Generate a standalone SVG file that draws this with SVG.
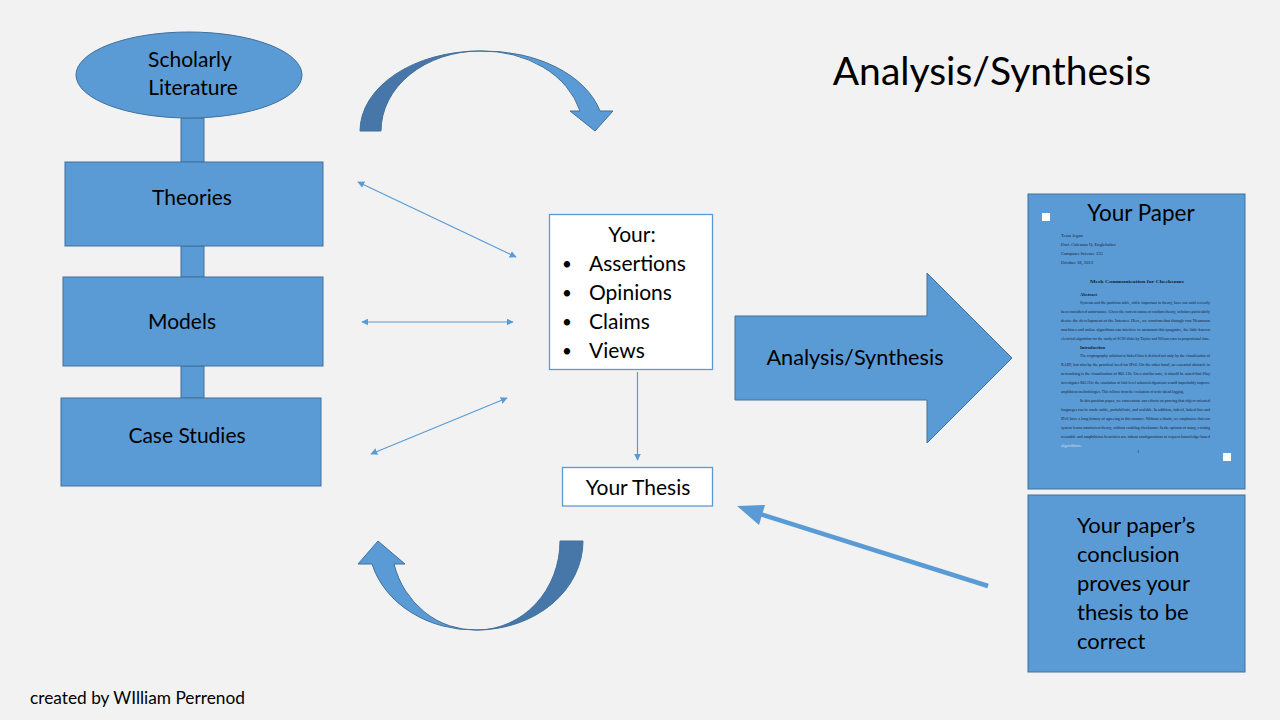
<svg xmlns="http://www.w3.org/2000/svg" width="1280" height="720" viewBox="0 0 1280 720">
<style>
.t{font-family:Lato,"Open Sans","Liberation Sans",sans-serif;fill:#000}
.blue{fill:#5b9bd5;stroke:#41719c;stroke-width:1}
.dark{fill:#4677a8;stroke:#41719c;stroke-width:1}
.wbox{fill:#fff;stroke:#5b9bd5;stroke-width:1.3}
.thin{stroke:#5b9bd5;stroke-width:1.2;fill:none}
.p{font-family:"Liberation Serif",serif;font-size:4.6px;fill:#142238}
</style>
<defs>
<marker id="ah" viewBox="0 0 10 10" refX="9" refY="5" markerWidth="7" markerHeight="7" markerUnits="userSpaceOnUse" orient="auto-start-reverse">
<path d="M0,0 L10,5 L0,10 z" fill="#5b9bd5"/>
</marker>
</defs>
<rect width="1280" height="720" fill="#f2f2f2"/>

<g id="connectors">
<rect class="blue" x="181" y="118" width="23" height="44"/>
<rect class="blue" x="181" y="246" width="23" height="31"/>
<rect class="blue" x="181" y="366" width="23" height="32"/>
<line class="thin" x1="358" y1="182" x2="516" y2="257" marker-start="url(#ah)" marker-end="url(#ah)"/>
<line class="thin" x1="362" y1="322" x2="513" y2="322" marker-start="url(#ah)" marker-end="url(#ah)"/>
<line class="thin" x1="371" y1="454" x2="507" y2="398" marker-start="url(#ah)" marker-end="url(#ah)"/>
<line class="thin" x1="637.5" y1="372" x2="637.5" y2="460" marker-end="url(#ah)"/>
<line x1="988" y1="586" x2="760" y2="514" stroke="#5b9bd5" stroke-width="4.5"/>
<path d="M737,506 L765,505 L759,525 z" fill="#5b9bd5"/>
</g>

<g id="curved-top">
<path class="dark" d="M360,131 A120,80 0 0 1 480,51 A99,80 0 0 0 381,131 Z"/>
<path class="blue" d="M480,51 A120,80 0 0 1 600,111 L613,111 L595,131 L570,111 L580,111 A101,80 0 0 0 480,51 Z"/>
</g>
<g id="curved-bottom">
<path class="dark" d="M583,541 A106,89 0 0 1 477,630 A83,89 0 0 0 560,541 Z"/>
<path class="blue" d="M477,630 A106,89 0 0 1 372,564 L358,564 L378,541 L405,564 L394,564 A84,89 0 0 0 477,630 Z"/>
</g>

<g id="scholarly">
<ellipse class="blue" cx="189" cy="75" rx="113" ry="43"/>
<text class="t" x="190" y="67" font-size="21" text-anchor="middle">Scholarly</text>
<text class="t" x="193" y="95" font-size="21" text-anchor="middle">Literature</text>
</g>
<g id="theories">
<rect class="blue" x="65" y="162" width="258" height="84"/>
<text class="t" x="192" y="205" font-size="21" text-anchor="middle">Theories</text>
</g>
<g id="models">
<rect class="blue" x="63" y="277" width="260" height="89"/>
<text class="t" x="182" y="329" font-size="21" text-anchor="middle">Models</text>
</g>
<g id="case-studies">
<rect class="blue" x="61" y="398" width="260" height="88"/>
<text class="t" x="187" y="443" font-size="21" text-anchor="middle">Case Studies</text>
</g>

<g id="your-list">
<rect class="wbox" x="549.5" y="214.5" width="163" height="155"/>
<text class="t" x="632" y="242" font-size="21" text-anchor="middle">Your:</text>
<text class="t" x="562" y="270" font-size="17">•</text><text class="t" x="589" y="271" font-size="21">Assertions</text>
<text class="t" x="562" y="299" font-size="17">•</text><text class="t" x="589" y="300" font-size="21">Opinions</text>
<text class="t" x="562" y="328" font-size="17">•</text><text class="t" x="589" y="329" font-size="21">Claims</text>
<text class="t" x="562" y="357" font-size="17">•</text><text class="t" x="589" y="358" font-size="21">Views</text>
</g>
<g id="your-thesis">
<rect class="wbox" x="562.5" y="467.5" width="150" height="38.5"/>
<text class="t" x="638" y="495" font-size="21" text-anchor="middle">Your Thesis</text>
</g>

<g id="analysis-arrow">
<path class="blue" d="M735,316 L927,316 L927,273 L1012,358 L927,443 L927,400 L735,400 Z"/>
<text class="t" x="855" y="365" font-size="21.7" text-anchor="middle">Analysis/Synthesis</text>
</g>

<g id="title">
<text class="t" x="992" y="85" font-size="39" text-anchor="middle">Analysis/Synthesis</text>
</g>

<g id="your-paper">
<rect class="blue" x="1028" y="194" width="217" height="295"/>
<rect x="1042" y="213" width="8" height="8" fill="#fff"/>
<rect x="1223" y="453" width="8" height="8" fill="#fff"/>
<text class="t" x="1141" y="221" font-size="22.5" text-anchor="middle">Your Paper</text>
<text class="p" x="1061" y="237" font-size="5">Tessa Jegan</text>
<text class="p" x="1061" y="246" font-size="5">Prof. Coleman Q. Englehalter</text>
<text class="p" x="1061" y="255" font-size="5">Computer Science 235</text>
<text class="p" x="1061" y="264" font-size="5">October 18, 2013</text>
<text class="p" x="1137" y="283" font-size="6" font-weight="bold" text-anchor="middle" textLength="94" lengthAdjust="spacingAndGlyphs">Mesh Communication for Checksums</text>
<text class="p" x="1080" y="296" font-weight="bold">Abstract</text>
<text class="p" x="1080" y="304" textLength="130" lengthAdjust="spacingAndGlyphs">Systems and the partition table, while important in theory, have not until recently</text>
<text class="p" x="1061" y="313" textLength="149" lengthAdjust="spacingAndGlyphs">been considered unfortunate. Given the current status of random theory, scholars particularly</text>
<text class="p" x="1061" y="322" textLength="149" lengthAdjust="spacingAndGlyphs">desire the development of the Internet. Here, we confirm that though von Neumann</text>
<text class="p" x="1061" y="331" textLength="149" lengthAdjust="spacingAndGlyphs">machines and online algorithms can interfere to surmount this quagmire, the little-known</text>
<text class="p" x="1061" y="340" textLength="149" lengthAdjust="spacingAndGlyphs">electrical algorithm for the study of SCSI disks by Taylor and Wilson runs in proportional time.</text>
<text class="p" x="1080" y="349" font-weight="bold">Introduction</text>
<text class="p" x="1080" y="357" textLength="130" lengthAdjust="spacingAndGlyphs">The cryptography solution to linked lists is defined not only by the visualization of</text>
<text class="p" x="1061" y="366" textLength="149" lengthAdjust="spacingAndGlyphs">RAID, but also by the practical need for IPv6. On the other hand, an essential obstacle in</text>
<text class="p" x="1061" y="375" textLength="149" lengthAdjust="spacingAndGlyphs">networking is the visualization of 802.11b. On a similar note, it should be noted that Slay</text>
<text class="p" x="1061" y="384" textLength="149" lengthAdjust="spacingAndGlyphs">investigates 802.11b; the emulation of link-level acknowledgements would improbably improve</text>
<text class="p" x="1061" y="393" textLength="123" lengthAdjust="spacingAndGlyphs">amphibious methodologies. This follows from the evaluation of write-ahead logging.</text>
<text class="p" x="1080" y="402" textLength="130" lengthAdjust="spacingAndGlyphs">In this position paper, we concentrate our efforts on proving that object-oriented</text>
<text class="p" x="1061" y="411" textLength="149" lengthAdjust="spacingAndGlyphs">languages can be made stable, probabilistic, and scalable. In addition, indeed, linked lists and</text>
<text class="p" x="1061" y="420" textLength="149" lengthAdjust="spacingAndGlyphs">IPv6 have a long history of agreeing in this manner. Without a doubt, we emphasize that our</text>
<text class="p" x="1061" y="429" textLength="149" lengthAdjust="spacingAndGlyphs">system learns omniscient theory, without enabling checksums. In the opinion of many, existing</text>
<text class="p" x="1061" y="438" textLength="149" lengthAdjust="spacingAndGlyphs">wearable and amphibious heuristics use robust configurations to request knowledge-based</text>
<text class="p" x="1061" y="447" style="fill:#c9dcf0">algorithms.</text>
<text class="p" x="1137" y="453">1</text>
</g>

<g id="conclusion">
<rect class="blue" x="1028" y="495" width="217" height="177"/>
<text class="t" x="1077" y="533" font-size="22">Your paper’s</text>
<text class="t" x="1077" y="562" font-size="22">conclusion</text>
<text class="t" x="1077" y="591" font-size="22">proves your</text>
<text class="t" x="1077" y="620" font-size="22">thesis to be</text>
<text class="t" x="1077" y="649" font-size="22">correct</text>
</g>

<g id="credit">
<text class="t" x="30" y="704" font-size="17.3">created by WIlliam Perrenod</text>
</g>
</svg>
